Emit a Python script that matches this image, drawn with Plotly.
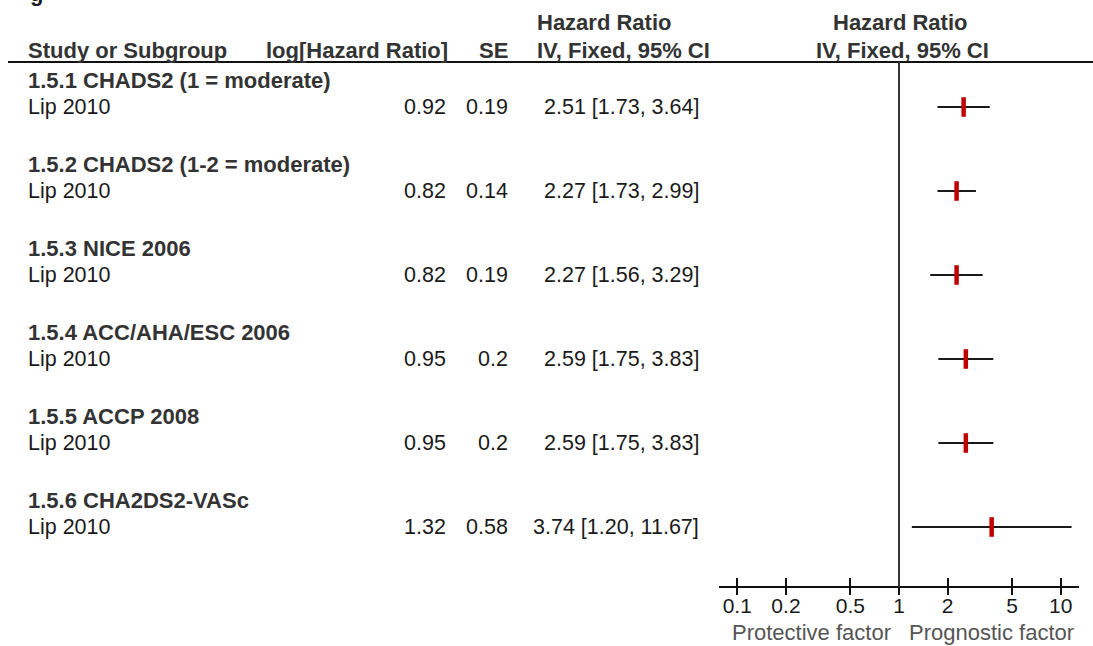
import plotly.graph_objects as go

# ---------------- data ----------------
groups = ["1.5.1 CHADS2 (1 = moderate)", "1.5.2 CHADS2 (1-2 = moderate)", "1.5.3 NICE 2006",
          "1.5.4 ACC/AHA/ESC 2006", "1.5.5 ACCP 2008", "1.5.6 CHA2DS2-VASc"]
studies = ["Lip 2010", "Lip 2010", "Lip 2010", "Lip 2010", "Lip 2010", "Lip 2010"]
log_hr_txt = ["0.92", "0.82", "0.82", "0.95", "0.95", "1.32"]
se_txt = ["0.19", "0.14", "0.19", "0.2", "0.2", "0.58"]
hr = [2.51, 2.27, 2.27, 2.59, 2.59, 3.74]
ci_lo = [1.73, 1.73, 1.56, 1.75, 1.75, 1.20]
ci_hi = [3.64, 2.99, 3.29, 3.83, 3.83, 11.67]
tick_vals = [0.1, 0.2, 0.5, 1, 2, 5, 10]
tick_text = ["0.1", "0.2", "0.5", "1", "2", "5", "10"]

# ---------------- layout constants (pixels) ----------------
W, H = 1093, 646
FONT = "Liberation Sans, Arial, sans-serif"
FS_B = 22      # bold headers
FS = 21.5      # regular row text
first_group_y = 80
group_step = 84
study_offset = 27
axis_y = 587
header_line_y = 62

group_y = [first_group_y + i * group_step for i in range(len(groups))]
study_y = [g + study_offset for g in group_y]

def px(x):
    return x / W

fig = go.Figure()

# CI lines + point estimates
fig.add_trace(go.Scatter(
    x=hr, y=study_y, mode="markers",
    marker=dict(symbol="line-ns", size=14, color="#C00000",
                line=dict(color="#C00000", width=4.5)),
    error_x=dict(type="data", symmetric=False,
                 array=[h - e for h, e in zip(ci_hi, hr)],
                 arrayminus=[e - l for e, l in zip(hr, ci_lo)],
                 width=0, thickness=2, color="#1a1a1a"),
    hoverinfo="skip", showlegend=False, cliponaxis=False,
))
# invisible trace to activate the overlay axis (lower tick halves)
fig.add_trace(go.Scatter(x=[1], y=[axis_y], xaxis="x2", mode="markers",
                         marker=dict(opacity=0), hoverinfo="skip", showlegend=False))

ann = []
def T(x, y, text, anchor="left", bold=False, color="#1a1a1a", size=None):
    if size is None:
        size = FS_B if bold else FS
    ann.append(dict(x=px(x), y=y, xref="paper", yref="y", text=f"<b>{text}</b>" if bold else text,
                    xanchor=anchor, yanchor="middle", showarrow=False,
                    font=dict(family=FONT, size=size, color=color)))

HDR = "#333333"
LEFT = 26
# column headers
T(535, 22, "Hazard Ratio", "left", True, HDR)
T(900, 22, "Hazard Ratio", "center", True, HDR)
T(LEFT, 50, "Study or Subgroup", "left", True, HDR)
T(450, 50, "log[Hazard Ratio]", "right", True, HDR)
T(510, 50, "SE", "right", True, HDR)
T(535, 50, "IV, Fixed, 95% CI", "left", True, HDR)
T(902, 50, "IV, Fixed, 95% CI", "center", True, HDR)

for i in range(len(groups)):
    T(LEFT, group_y[i], groups[i], "left", True, HDR)
    T(LEFT, study_y[i], studies[i], "left")
    T(448, study_y[i], log_hr_txt[i], "right")
    T(510, study_y[i], se_txt[i], "right")
    T(701, study_y[i], f"{hr[i]:.2f} [{ci_lo[i]:.2f}, {ci_hi[i]:.2f}]", "right")

T(811, 632, "Protective factor", "center", False, "#555555", 22)
T(991, 632, "Prognostic factor", "center", False, "#555555", 22)
# cut-off panel letter at very top
ann.append(dict(x=px(28), y=8, xref="paper", yref="y", text="<b>g</b>", xanchor="left",
                yanchor="bottom", showarrow=False, font=dict(family=FONT, size=FS_B, color="#1a1a1a")))

shapes = [
    dict(type="line", xref="paper", yref="y", x0=px(8), x1=1, y0=header_line_y, y1=header_line_y,
         line=dict(color="#111111", width=2)),
    dict(type="line", xref="x", yref="y", x0=1, x1=1, y0=header_line_y, y1=axis_y,
         line=dict(color="#333333", width=2)),
]

x_dom = [px(719), px(1079)]
x_rng = [-1.113, 1.113]
axis_pos = (H - axis_y) / H

fig.update_layout(
    width=W, height=H, margin=dict(l=0, r=0, t=0, b=0),
    paper_bgcolor="white", plot_bgcolor="rgba(0,0,0,0)",
    annotations=ann, shapes=shapes,
    xaxis=dict(type="log", range=x_rng, domain=x_dom, anchor="free", position=axis_pos,
               tickvals=tick_vals, ticktext=tick_text, ticks="inside", ticklen=8, tickwidth=2,
               tickcolor="#111111", showline=True, linecolor="#111111", linewidth=2,
               showgrid=False, zeroline=False, ticklabelstandoff=0,
               tickfont=dict(family=FONT, size=21, color="#1a1a1a")),
    xaxis2=dict(type="log", range=x_rng, domain=x_dom, anchor="free", position=axis_pos,
                overlaying="x", side="bottom", tickvals=tick_vals, ticks="outside", ticklen=7,
                tickwidth=2, tickcolor="#111111", showticklabels=False, showline=False,
                showgrid=False, zeroline=False),
    yaxis=dict(range=[H, 0], domain=[0, 1], visible=False, showgrid=False, zeroline=False),
)

fig.write_html("out.html")
